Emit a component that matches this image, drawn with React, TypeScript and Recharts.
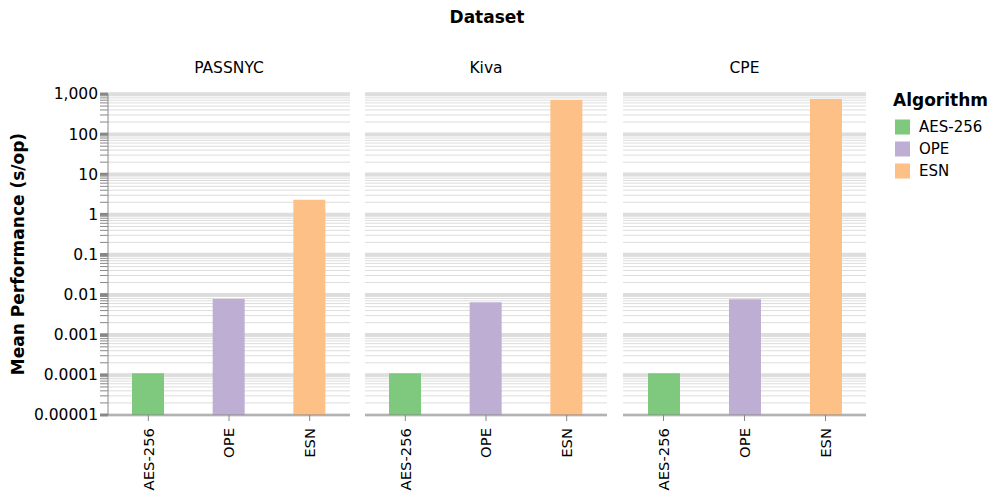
import { BarChart, Bar, Cell, XAxis, YAxis, CartesianGrid } from 'recharts'

const datasets = ['PASSNYC', 'Kiva', 'CPE']
const algorithms = ['AES-256', 'OPE', 'ESN']

// mean seconds per operation, one entry per dataset
const aesValues = [0.00011, 0.00011, 0.00011]
const opeValues = [0.0078, 0.0065, 0.0077]
const esnValues = [2.3, 710, 750]

const COLORS = ['#7fc97f', '#beaed4', '#fdc086']

const majorTicks = [0.00001, 0.0001, 0.001, 0.01, 0.1, 1, 10, 100, 1000]
const majorLabels = ['0.00001', '0.0001', '0.001', '0.01', '0.1', '1', '10', '100', '1,000']
const minorSteps = [2, 3, 4, 5, 6, 7, 8, 9]

const gridTicks = majorTicks.flatMap((m, i) =>
  i < majorTicks.length - 1 ? [m, ...minorSteps.map((s) => +(m * s).toPrecision(3))] : [m]
)
const isMajor = (v: number) => majorTicks.some((m) => Math.abs(v - m) / m < 1e-6)

const FONT = '"DejaVu Sans", sans-serif'
const AXIS = '#888'
const GRID = '#ddd'

const PANELS = [
  { left: 0, width: 350, showAxis: true },
  { left: 365, width: 242, showAxis: false },
  { left: 623, width: 243, showAxis: false },
]

// x passed in sits tickMargin (2px) left of the axis line
function YTick(props: any) {
  const { x, y, payload } = props
  const major = isMajor(payload.value)
  const idx = majorTicks.findIndex((m) => Math.abs(payload.value - m) / m < 1e-6)
  return (
    <g>
      <line x1={x - 6} x2={x + 2} y1={y} y2={y} stroke={AXIS} strokeWidth={major ? 3 : 1} />
      {major && (
        <text x={x - 8} y={y} dy="0.35em" textAnchor="end" fontSize={15.5} fontFamily={FONT} fill="#000">
          {majorLabels[idx]}
        </text>
      )}
    </g>
  )
}

function XTick(props: any) {
  const { x, y, payload } = props
  return (
    <text
      transform={`translate(${x},${y + 5}) rotate(-90)`}
      dy="0.35em"
      textAnchor="end"
      fontSize={14.8}
      fontFamily={FONT}
      fill="#000"
    >
      {payload.value}
    </text>
  )
}

function gridLine(p: any) {
  const v = gridTicks[p.index]
  const major = v !== undefined && isMajor(v)
  return (
    <line
      key={p.key}
      x1={p.x1}
      x2={p.x2}
      y1={p.y1}
      y2={p.y2}
      stroke={GRID}
      strokeWidth={major ? 3.5 : 1}
    />
  )
}

function Panel({ d }: { d: number }) {
  const cfg = PANELS[d]
  const data = algorithms.map((a, i) => ({
    algorithm: a,
    value: [aesValues, opeValues, esnValues][i][d],
  }))
  return (
    <div style={{ position: 'absolute', left: cfg.left, top: 0 }}>
      <BarChart width={cfg.width} height={498} data={data} margin={{ top: 94, right: 0, bottom: 0, left: 0 }}>
        <CartesianGrid vertical={false} horizontal={gridLine} syncWithTicks />
        <XAxis
          dataKey="algorithm"
          height={83}
          stroke={AXIS}
          tickSize={6}
          tick={<XTick />}
          interval={0}
        />
        <YAxis
          type="number"
          scale="log"
          domain={[0.00001, 1000]}
          allowDataOverflow
          ticks={gridTicks}
          interval={0}
          hide={!cfg.showAxis}
          width={108}
          stroke={AXIS}
          tickLine={false}
          tickSize={0}
          tick={<YTick />}
        />
        <Bar dataKey="value" barSize={32} isAnimationActive={false}>
          {data.map((_, i) => (
            <Cell key={i} fill={COLORS[i]} />
          ))}
        </Bar>
      </BarChart>
    </div>
  )
}

export default function App() {
  const titleCenters = [229, 486, 744.5]
  return (
    <div style={{ position: 'absolute', left: 0, top: 0, width: 995, height: 498, background: '#fff' }}>
      {datasets.map((_, d) => (
        <Panel key={d} d={d} />
      ))}
      <svg width={995} height={498} style={{ position: 'absolute', left: 0, top: 0, pointerEvents: 'none' }}>
        <text x={487} y={22.5} textAnchor="middle" fontSize={17} fontWeight="bold" fontFamily={FONT}>
          Dataset
        </text>
        {datasets.map((name, d) => (
          <text key={name} x={titleCenters[d]} y={73} textAnchor="middle" fontSize={15.5} fontFamily={FONT}>
            {name}
          </text>
        ))}
        <text
          transform="translate(24,254) rotate(-90)"
          textAnchor="middle"
          fontSize={17}
          fontWeight="bold"
          fontFamily={FONT}
        >
          Mean Performance (s/op)
        </text>
        <text x={893} y={106} fontSize={17} fontWeight="bold" fontFamily={FONT}>
          Algorithm
        </text>
        {algorithms.map((a, i) => (
          <g key={a}>
            <rect x={895} y={119.5 + i * 22} width={15} height={15} fill={COLORS[i]} />
            <text x={919} y={127 + i * 22} dy="0.35em" fontSize={15} fontFamily={FONT}>
              {a}
            </text>
          </g>
        ))}
      </svg>
    </div>
  )
}
